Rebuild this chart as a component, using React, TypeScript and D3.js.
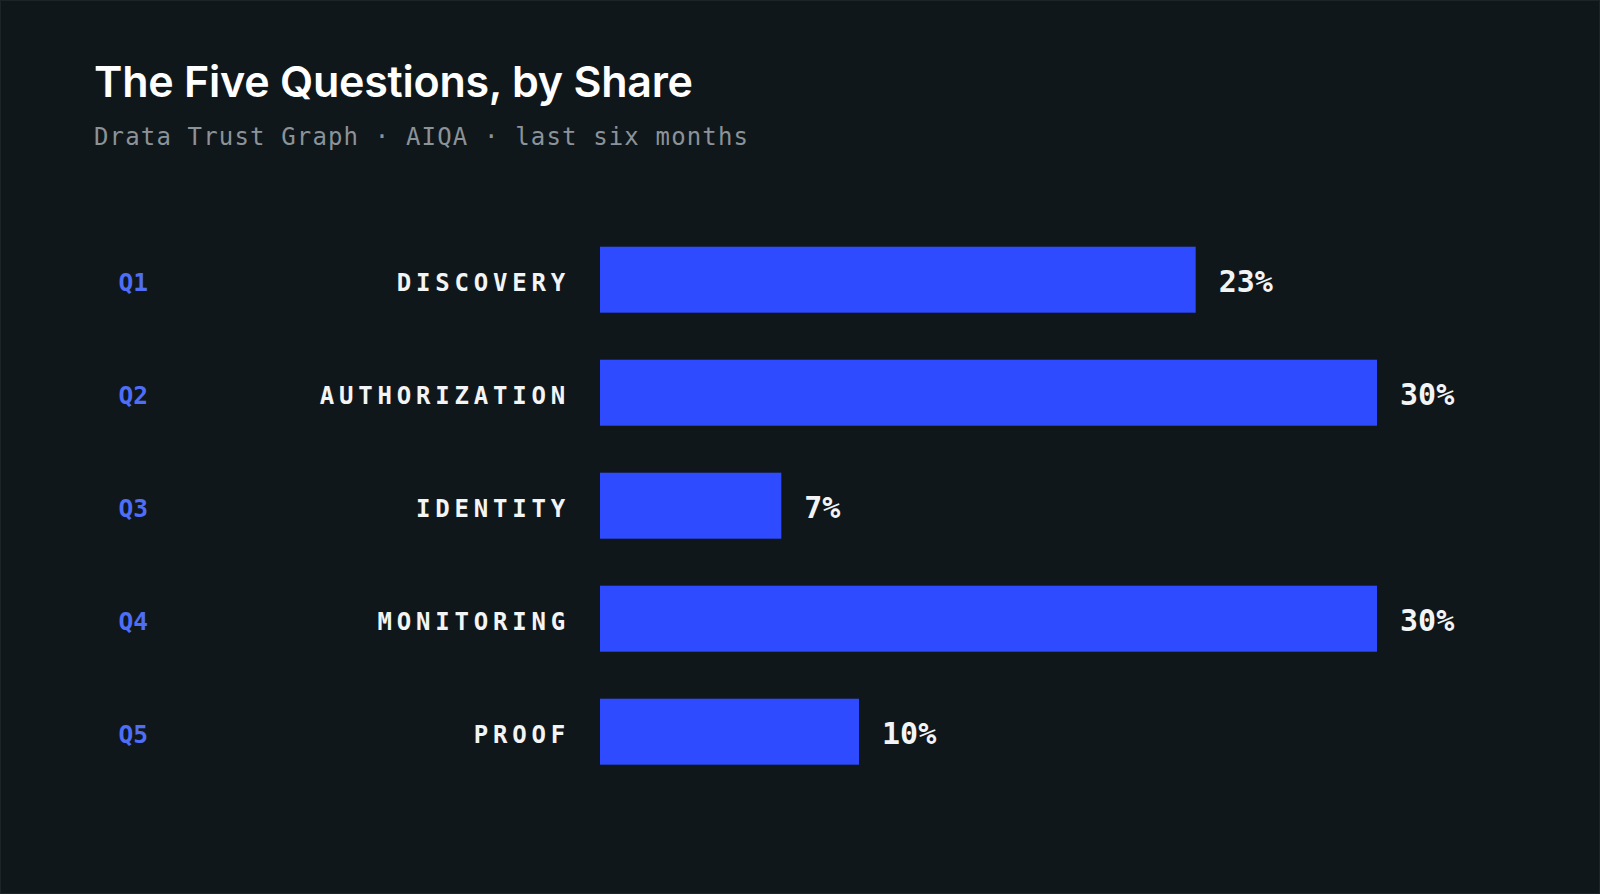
import React, { useEffect } from 'react';
import * as d3 from 'd3';

const questionIds = ['Q1', 'Q2', 'Q3', 'Q4', 'Q5'];
const categories = ['DISCOVERY', 'AUTHORIZATION', 'IDENTITY', 'MONITORING', 'PROOF'];
const shares = [23, 30, 7, 30, 10];

const title = 'The Five Questions, by Share';
const subtitle = 'Drata Trust Graph · AIQA · last six months';

const W = 1600;
const H = 894;
const BG = '#10171b';
const BAR = '#2f4bff';
const MONO = '"DejaVu Sans Mono", "Liberation Mono", monospace';
const SANS = 'Inter, "Noto Sans", sans-serif';

const App: React.FC = () => {
    useEffect(() => {
        document.body.style.margin = '0';
        document.body.style.background = BG;
    }, []);

    const x = d3.scaleLinear()
        .domain([0, d3.max(shares) as number])
        .range([600, 1377]);

    const y = d3.scaleBand<string>()
        .domain(categories)
        .range([199.7, 811.7])
        .padding(0.416);

    return (
        <svg width={W} height={H} style={{ display: 'block' }}>
            <rect x={0.5} y={0.5} width={W - 1} height={H - 1} fill={BG} stroke="#1d2428" />

            <text x={94} y={97} fill="#ffffff" fontFamily={SANS} fontWeight={600}
                fontSize={43} letterSpacing={-0.25}>{title}</text>
            <text x={94} y={145} fill="#8b9398" fontFamily={MONO}
                fontSize={24} letterSpacing={1.15}>{subtitle}</text>

            {categories.map((c, i) => {
                const yc = (y(c) as number) + y.bandwidth() / 2;
                return (
                    <g key={c}>
                        <text x={118.5} y={yc + 11.5} fill="#4f6ef7" fontFamily={MONO}
                            fontWeight={700} fontSize={24.5}>{questionIds[i]}</text>
                        <text x={570} y={yc + 11.5} textAnchor="end" fill="#f2f4f5"
                            fontFamily={MONO} fontWeight={700} fontSize={24}
                            letterSpacing={4.8}>{c}</text>
                        <rect x={x(0)} y={y(c)} width={x(shares[i]) - x(0)}
                            height={y.bandwidth()} fill={BAR} />
                        <text x={x(shares[i]) + 23} y={yc + 12.5} fill="#f2f4f5"
                            fontFamily={MONO} fontWeight={700} fontSize={30}>{shares[i]}%</text>
                    </g>
                );
            })}
        </svg>
    );
};

export default App;
